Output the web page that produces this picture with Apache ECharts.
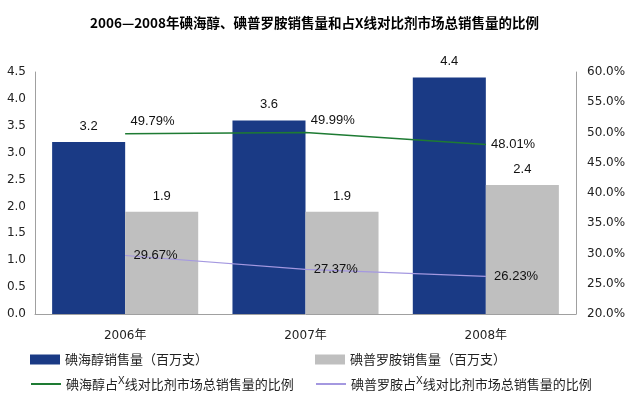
<!DOCTYPE html>
<html><head><meta charset="utf-8">
<script src="https://cdn.jsdelivr.net/npm/echarts@6/dist/echarts.min.js"></script>
<style>html,body{margin:0;padding:0;background:#fff}#c{width:629px;height:394px}</style>
</head><body><div id="c"></div>
<script>
const categories = ['2006年', '2007年', '2008年'];
const iohexolSales = [3.2, 3.6, 4.4];
const iopromideSales = [1.9, 1.9, 2.4];
const iohexolShare = [49.79, 49.99, 48.01];
const iopromideShare = [29.67, 27.37, 26.23];
const leftTicks = [0, 4.5, 0.5];
const rightTicks = [20, 60, 5];

const names = ['碘海醇销售量（百万支）', '碘普罗胺销售量（百万支）', '碘海醇占X线对比剂市场总销售量的比例', '碘普罗胺占X线对比剂市场总销售量的比例'];
const font = '"Liberation Sans", Arial, "Noto Sans CJK SC", sans-serif';
const axisFont = '"DejaVu Sans", "Noto Sans CJK SC", sans-serif';

const chart = echarts.init(document.getElementById('c'));
const legendText = {
  fontSize: 13, color: '#222', fontFamily: '"Noto Sans CJK SC", sans-serif',
  rich: { sup: { fontSize: 10, verticalAlign: 'top', padding: [0, 0, 6, 0], color: '#222', fontFamily: font } }
};
const legendFmt = n => n.replace('X', '{sup|X}');
const mkLegend = (idx, left, top, isLine) => ({
  data: [isLine ? { name: names[idx], itemStyle: { opacity: 0 } } : { name: names[idx], icon: 'rect' }],
  left: left, top: top, itemWidth: 30, itemHeight: 10, itemGap: 0,
  textStyle: legendText, formatter: legendFmt, selectedMode: false
});
chart.setOption({
  animation: false,
  title: {
    text: '2006—2008年碘海醇、碘普罗胺销售量和占X线对比剂市场总销售量的比例',
    left: 'center', top: 11,
    textStyle: { fontSize: 13.5, fontWeight: 'bold', color: '#000', fontFamily: '"Noto Sans CJK SC", sans-serif' }
  },
  grid: { left: 35, right: 53, top: 72, bottom: 80 },
  legend: [
    mkLegend(0, 25, 348, false),
    mkLegend(2, 25, 371, true),
    mkLegend(1, 310, 348, false),
    mkLegend(3, 310, 371, true)
  ],
  xAxis: {
    type: 'category', data: categories,
    axisLine: { lineStyle: { color: '#a0a0a0' } },
    axisTick: { show: false },
    axisLabel: { color: '#222', fontSize: 12, margin: 16, fontFamily: axisFont }
  },
  yAxis: [
    { type: 'value', min: leftTicks[0], max: leftTicks[1], interval: leftTicks[2],
      axisLine: { show: true, lineStyle: { color: '#a0a0a0' } }, axisTick: { show: false }, splitLine: { show: false },
      axisLabel: { color: '#222', fontSize: 12, margin: 9, fontFamily: axisFont, formatter: v => v.toFixed(1) } },
    { type: 'value', min: rightTicks[0], max: rightTicks[1], interval: rightTicks[2],
      axisLine: { show: true, lineStyle: { color: '#a0a0a0' } }, axisTick: { show: false }, splitLine: { show: false },
      axisLabel: { color: '#222', fontSize: 12, margin: 11, fontFamily: axisFont, formatter: v => v.toFixed(1) + '%' } }
  ],
  series: [
    { name: names[0], type: 'bar', data: iohexolSales, barGap: '0%', barCategoryGap: '19%',
      itemStyle: { color: '#1a3a85' },
      label: { show: true, position: 'top', distance: 9, fontSize: 13, color: '#111', fontFamily: font } },
    { name: names[1], type: 'bar', data: iopromideSales,
      itemStyle: { color: '#bfbfbf' },
      label: { show: true, position: 'top', distance: 9, fontSize: 13, color: '#111', fontFamily: font } },
    { name: names[2], type: 'line', yAxisIndex: 1, symbol: 'circle', symbolSize: 0.5, showSymbol: true,
      data: iohexolShare.map((v, i) => ({ value: v, label: { offset: i < 2 ? [0, -12] : [0, 0] } })),
      lineStyle: { color: '#1e7b33', width: 1.5 }, itemStyle: { color: '#1e7b33' },
      label: { show: true, position: 'right', distance: 5, fontSize: 13, color: '#111', fontFamily: font, formatter: p => p.value.toFixed(2) + '%' } },
    { name: names[3], type: 'line', yAxisIndex: 1, symbol: 'circle', symbolSize: 0.5, showSymbol: true,
      data: iopromideShare,
      lineStyle: { color: '#a498e0', width: 1.2 }, itemStyle: { color: '#a498e0' },
      label: { show: true, position: 'right', distance: 8, fontSize: 13, color: '#111', fontFamily: font, formatter: p => p.value.toFixed(2) + '%' } }
  ]
});
</script></body></html>
